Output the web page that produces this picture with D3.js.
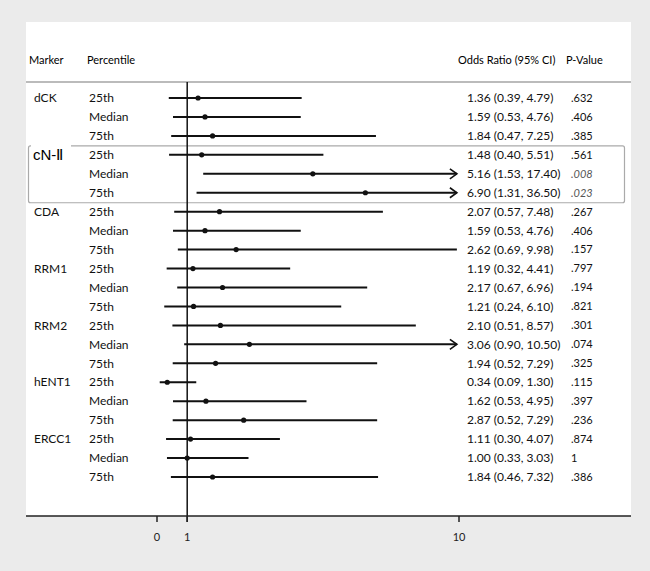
<!DOCTYPE html>
<html>
<head>
<meta charset="utf-8">
<script src="https://cdn.jsdelivr.net/npm/d3@7"></script>
<style>
  body { margin: 0; background: #ebebeb; }
  svg { display: block; font-family: Lato, "Open Sans", sans-serif; }
</style>
</head>
<body>
<svg id="chart" width="650" height="571"></svg>
<script>
const markers = ['dCK', '', '', 'cN-II', '', '', 'CDA', '', '', 'RRM1', '', '', 'RRM2', '', '', 'hENT1', '', '', 'ERCC1', '', ''];
const percentiles = ['25th', 'Median', '75th'];
const oddsRatio = [1.36, 1.59, 1.84, 1.48, 5.16, 6.90, 2.07, 1.59, 2.62, 1.19, 2.17, 1.21, 2.10, 3.06, 1.94, 0.34, 1.62, 2.87, 1.11, 1.00, 1.84];
const lower = [0.39, 0.53, 0.47, 0.40, 1.53, 1.31, 0.57, 0.53, 0.69, 0.32, 0.67, 0.24, 0.51, 0.90, 0.52, 0.09, 0.53, 0.52, 0.30, 0.33, 0.46];
const upper = [4.79, 4.76, 7.25, 5.51, 17.40, 36.50, 7.48, 4.76, 9.98, 4.41, 6.96, 6.10, 8.57, 10.50, 7.29, 1.30, 4.95, 7.29, 4.07, 3.03, 7.32];
const pValues = ['.632', '.406', '.385', '.561', '.008', '.023', '.267', '.406', '.157', '.797', '.194', '.821', '.301', '.074', '.325', '.115', '.397', '.236', '.874', '1', '.386'];
const significant = [4, 5];
const xTicks = [0, 1, 10];

const svg = d3.select('#chart');
const x = d3.scaleLinear().domain([0, 10]).range([157, 459]);
const y = d3.scalePoint().domain(d3.range(oddsRatio.length)).range([98, 477]);
const maxShown = 9.93;
const fmt = d3.format('.2f');

// white panel
svg.append('rect').attr('x', 26).attr('y', 22).attr('width', 605).attr('height', 494).attr('fill', '#fff');

// header
const header = svg.append('g').attr('font-size', 11).attr('fill', '#000');
header.append('text').attr('x', 29).attr('y', 64).text('Marker');
header.append('text').attr('x', 87).attr('y', 64).text('Percentile');
header.append('text').attr('x', 458).attr('y', 64).text('Odds Ratio (95% CI)');
header.append('text').attr('x', 566).attr('y', 64).text('P-Value');
svg.append('line').attr('x1', 26).attr('x2', 631).attr('y1', 82).attr('y2', 82)
  .attr('stroke', '#bbb').attr('stroke-width', 2);

// highlight box for cN-II
const step = y.step();
svg.append('rect')
  .attr('x', 28.5).attr('y', y(3) - step / 2 + 0.5)
  .attr('width', 596).attr('height', step * 3)
  .attr('fill', 'none').attr('stroke', '#aaa').attr('stroke-width', 1.2).attr('rx', 2);

// reference line at OR = 1
svg.append('line').attr('x1', x(1)).attr('x2', x(1)).attr('y1', 82).attr('y2', 522)
  .attr('stroke', '#111').attr('stroke-width', 1.5);

// axis
const axisG = svg.append('g').attr('transform', 'translate(0,516)');
axisG.append('line').attr('x1', 26).attr('x2', 631).attr('stroke', '#222').attr('stroke-width', 1.5);
axisG.selectAll('g.tick').data(xTicks).join('g')
  .attr('class', 'tick')
  .attr('transform', d => `translate(${x(d)},0)`)
  .call(g => g.append('line').attr('y2', 6).attr('stroke', '#222').attr('stroke-width', 1.5))
  .call(g => g.append('text').attr('y', 25).attr('text-anchor', 'middle')
    .attr('font-size', 11).attr('fill', '#222').text(d => d));

// rows
const rows = svg.append('g').selectAll('g.row').data(oddsRatio).join('g')
  .attr('class', 'row')
  .attr('transform', (d, i) => `translate(0,${y(i)})`);

rows.append('line')
  .attr('x1', (d, i) => x(lower[i]))
  .attr('x2', (d, i) => x(Math.min(upper[i], maxShown)))
  .attr('stroke', '#111').attr('stroke-width', 2);

rows.filter((d, i) => upper[i] > 10).append('path')
  .attr('d', `M${x(maxShown) - 7},-5L${x(maxShown)},0L${x(maxShown) - 7},5`)
  .attr('fill', 'none').attr('stroke', '#111').attr('stroke-width', 1.6);

rows.append('circle')
  .attr('cx', d => x(d)).attr('r', 2.6).attr('fill', '#111');

const textG = rows.append('g').attr('font-size', 12).attr('fill', '#111');
textG.append('text').attr('x', 89).attr('dy', '0.35em').text((d, i) => percentiles[i % 3]);
textG.append('text').attr('x', 467).attr('dy', '0.35em')
  .text((d, i) => `${fmt(d)} (${fmt(lower[i])}, ${fmt(upper[i])})`);
textG.append('text').attr('x', 571).attr('dy', '0.35em').attr('font-size', 11)
  .attr('font-style', (d, i) => significant.includes(i) ? 'italic' : null)
  .attr('fill', (d, i) => significant.includes(i) ? '#555' : '#111')
  .text((d, i) => pValues[i]);

// marker names
rows.each(function (d, i) {
  const name = markers[i];
  if (!name) return;
  const g = d3.select(this);
  if (name === 'cN-II') {
    g.append('rect').attr('x', 31).attr('y', -10).attr('width', 40).attr('height', 19).attr('fill', '#fff');
    g.append('text').attr('x', 33).attr('dy', '0.35em')
      .attr('font-family', '"Liberation Sans", Arial, sans-serif').attr('font-size', 15)
      .attr('fill', '#000').text('cN-\u2161');
  } else {
    g.append('text').attr('x', 34).attr('dy', '0.35em')
      .attr('font-size', 12).attr('fill', '#111').text(name);
  }
});
</script>
</body>
</html>
